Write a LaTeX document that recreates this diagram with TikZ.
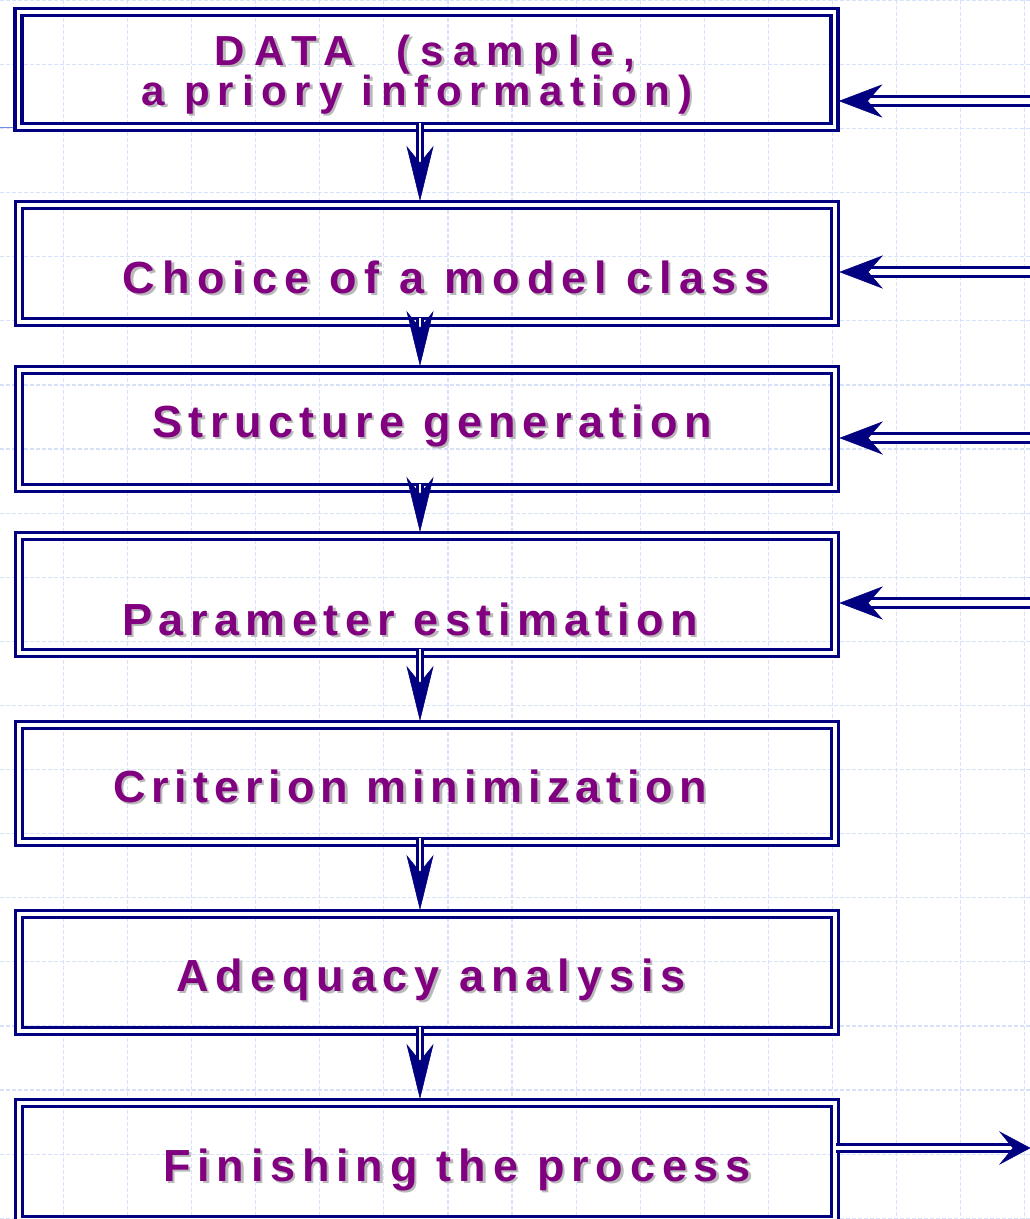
\documentclass[tikz,border=0pt]{standalone}
\usepackage{fontspec}
\usetikzlibrary{arrows.meta}
\newfontfamily\boxfont{Liberation Sans}[LetterSpace=15]
\definecolor{navyline}{RGB}{0,0,128}
\definecolor{purpletext}{RGB}{128,0,128}
\definecolor{shadowgray}{RGB}{185,185,185}
\definecolor{gridline}{RGB}{216,225,250}
\definecolor{edgeblue}{RGB}{110,140,230}
\newcommand\shadowed[1]{\rlap{\kern2.5pt\raisebox{-2.5pt}{\textcolor{shadowgray}{#1}}}\textcolor{purpletext}{#1}}
\newcommand\spaced[2]{\addfontfeature{LetterSpace=#1}\shadowed{#2}}
\begin{document}
\begin{tikzpicture}[x=1pt,y=-1pt,
  gridstyle/.style={draw=gridline, line width=1.2pt, dash pattern=on 4pt off 2pt},
  boxnode/.style={rectangle, draw=navyline, double=white, line width=3.4pt, double distance=3.4pt,
                  minimum width=816pt, inner sep=0pt, outer sep=5pt},
  labeltext/.style={anchor=base, inner sep=0pt, font=\boxfont\bfseries\fontsize{45}{54}\selectfont},
  labeltextsmall/.style={labeltext, font=\boxfont\bfseries\fontsize{42}{50}\selectfont},
  downshaft/.style={draw=navyline, double=white, line width=2.6pt, double distance=2.6pt, shorten >=30pt},
  sideshaft/.style={draw=navyline, double=white, line width=3.4pt, double distance=5.6pt, shorten >=24pt},
  finshaft/.style={draw=navyline, double=white, line width=3.2pt, double distance=4.2pt, shorten >=14pt},
  headfill/.style={fill=navyline, draw=navyline, line width=0.5pt, line join=miter}
]
\useasboundingbox (0,0) rectangle (1030,1219);
\fill[white] (0,0) rectangle (1030,1219);
% grid
\foreach \k in {0,...,16} \draw[gridstyle] ({64.1*\k-0.8},0) -- ({64.1*\k-0.8},1219);
\foreach \k in {0,...,19} \draw[gridstyle] (0,{64.1*\k+0.3}) -- (1030,{64.1*\k+0.3});
\draw[edgeblue, line width=1pt] (0,127) -- (13,127);

% boxes
\node[boxnode, minimum height=115pt] (b1) at (426.5,69.5) {};
\node[boxnode, minimum height=117pt] (b2) at (427,263.5) {};
\node[boxnode, minimum height=118pt] (b3) at (427,429) {};
\node[boxnode, minimum height=117pt] (b4) at (427,594.5) {};
\node[boxnode, minimum height=117pt] (b5) at (427,783.5) {};
\node[boxnode, minimum height=117pt] (b6) at (427,972.5) {};
\node[boxnode, minimum height=117pt] (b7) at (427,1161.5) {};

% texts
\node[labeltextsmall] (t1a) at (425,65) {\spaced{23}{DATA~~(sample,}};
\node[labeltextsmall] (t1b) at (417,105) {\spaced{18.5}{a priory information)}};
\node[labeltext] (t2) at (446,293) {\spaced{16.5}{Choice of a model class}};
\node[labeltext] (t3) at (432,437) {\spaced{14.4}{Structure generation}};
\node[labeltext] (t4) at (410,635) {\spaced{14.6}{Parameter estimation}};
\node[labeltext] (t5) at (410,802) {\spaced{13.2}{Criterion minimization}};
\node[labeltext] (t6) at (431,991) {\spaced{15.4}{Adequacy analysis}};
\node[labeltext] (t7) at (457,1181) {\spaced{15.1}{Finishing the process}};

% down arrows
\foreach \a/\b in {b1/b2,b2/b3,b3/b4,b4/b5,b5/b6,b6/b7}{
  \draw[downshaft] ([yshift=9pt]\a.south -| 420,0) -- (\b.north -| 420,0);
  \path[headfill] (\b.north -| 420,0) -- ++(-13,-53) -- ++(13,16) -- ++(13,-16) -- cycle;
}

% side arrows
\coordinate (r1) at (1030,101);
\coordinate (r2) at (1030,272);
\coordinate (r3) at (1030,438);
\coordinate (r4) at (1030,603);
\coordinate (fin) at (1030,1148);
\foreach \r/\b in {r1/b1,r2/b2,r3/b3,r4/b4}{
  \draw[sideshaft] (\r) -- (\b.east |- \r);
  \path[headfill] (\b.east |- \r) -- ++(42,-16) -- ++(-14,16) -- ++(14,16) -- cycle;
}
\draw[finshaft] ([xshift=-4pt]b7.east |- fin) -- (fin);
\path[headfill] (fin) -- ++(-30,-16) -- ++(13,16) -- ++(-13,16) -- cycle;
\end{tikzpicture}
\end{document}
